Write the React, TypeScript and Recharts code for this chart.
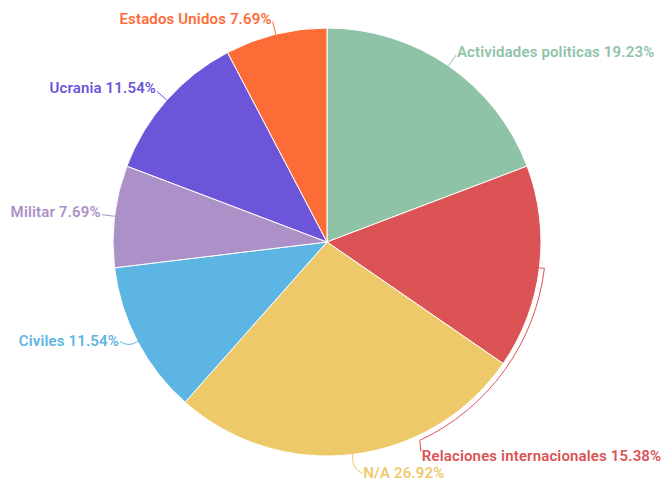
import React from 'react';
import { PieChart, Pie, Cell } from 'recharts';

const categories = [
  'Actividades politicas',
  'Relaciones internacionales',
  'N/A',
  'Civiles',
  'Militar',
  'Ucrania',
  'Estados Unidos',
];
const counts = [5, 4, 7, 3, 2, 3, 2];
const colors = ['#8ec3a7', '#db5354', '#edc96a', '#5db5e3', '#ab91c8', '#6c55d9', '#fd6c37'];

const data = categories.map((name, i) => ({ name, value: counts[i] }));

// small label nudges [dx, dy] relative to the computed elbow point
const labelNudges = [
  [0, 0],
  [0, 0],
  [8, 9],
  [-6, -3],
  [0, 0],
  [0, 0],
  [0, 0],
];

const RAD = Math.PI / 180;
const FONT = { fontFamily: 'Roboto, sans-serif', fontSize: 15, fontWeight: 600, letterSpacing: 0.15 };

const renderLabel = (props: any) => {
  const { cx, cy, midAngle, outerRadius, percent, index } = props;
  const pt = (r: number, a: number) => [cx + r * Math.cos(-a * RAD), cy + r * Math.sin(-a * RAD)];
  const color = colors[index];
  const text = `${categories[index]} ${(percent * 100).toFixed(2)}%`;
  const [x0, y0] = pt(outerRadius, midAngle);
  if (index === 1) {
    const r2 = outerRadius + 5;
    const [x1, y1] = pt(r2, midAngle);
    const [x2, y2] = pt(r2, midAngle - 58);
    const d = `M${x0},${y0} L${x1},${y1} A${r2},${r2} 0 0 1 ${x2},${y2} L${x2 + 1},${y2 + 11}`;
    return (
      <g>
        <path d={d} stroke={color} strokeWidth={1} fill="none" />
        <text x={x2 + 2} y={y2 + 16} fill={color} textAnchor="start" dominantBaseline="central" {...FONT}>
          {text}
        </text>
      </g>
    );
  }
  const [ex, ey] = pt(outerRadius + 13, midAngle);
  const [dx, dy] = labelNudges[index];
  const x1 = ex + dx;
  const y1 = ey + dy;
  const right = x1 > cx + 1;
  const tx = right ? x1 + 1 : x1 - 1;
  const d = dx || dy
    ? `M${x0},${y0} Q${ex - dx * 0.5},${ey} ${x1},${y1 - 3}`
    : `M${x0},${y0} L${x1},${y1}`;
  return (
    <g>
      <path d={d} stroke={color} strokeWidth={1} fill="none" />
      <text x={tx} y={y1 - 3} fill={color} textAnchor={right ? 'start' : 'end'} dominantBaseline="central" {...FONT}>
        {text}
      </text>
    </g>
  );
};

export default function App() {
  return (
    <div style={{ position: 'absolute', left: 0, top: 0, width: 664, height: 483, background: '#fff' }}>
      <PieChart width={664} height={483}>
        <Pie
          data={data}
          dataKey="value"
          nameKey="name"
          cx={322}
          cy={237}
          outerRadius={214}
          startAngle={90}
          endAngle={-270}
          stroke="#ffffff"
          strokeWidth={1}
          label={renderLabel}
          labelLine={false}
          isAnimationActive={false}
        >
          {data.map((d, i) => (
            <Cell key={d.name} fill={colors[i]} />
          ))}
        </Pie>
      </PieChart>
    </div>
  );
}
